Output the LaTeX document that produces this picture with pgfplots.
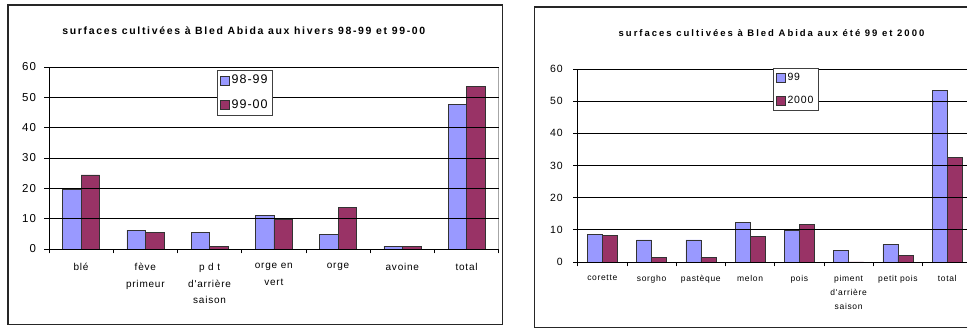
\documentclass[border=0pt]{standalone}
\usepackage{pgfplots}
\pgfplotsset{compat=1.18}
\usepackage{fontspec}
\setmainfont{Liberation Sans}
\newfontfamily\lsA[LetterSpace=8]{Liberation Sans}
\newfontfamily\lsB[LetterSpace=16]{Liberation Sans}
\newfontfamily\lsC[LetterSpace=21]{Liberation Sans}
\definecolor{cA}{HTML}{9999FF}
\definecolor{cB}{HTML}{993366}
\pgfplotsset{
  mybars/.style={
    scale only axis,
    anchor=south west,
    ybar=0pt,
    axis on top,
    ymin=0, ymax=60, ytick={0,10,...,60},
    ymajorgrids,
    major grid style={black, line width=0.5pt},
    axis x line*=bottom, axis y line*=left,
    axis line style={-, black, line width=0.6pt},
    tick align=outside,
    tick style={black, line width=0.6pt},
    major tick length=4.5pt,
    xticklabels={},
    extra x tick style={major tick length=0pt, grid=none},
    /pgf/number format/assume math mode=true,
    xticklabel style={align=center},
    clip=false,
    legend image code/.code={\draw[##1,/tikz/.cd,line width=0.6pt] (0pt,-4.5pt) rectangle (9pt,4.5pt);},
    legend cell align=left,
  }
}
\begin{document}
\begin{tikzpicture}
\begin{axis}[mybars,
  at={(49pt,80pt)}, width=450pt, height=182pt,
  xmin=-0.5, xmax=6.5, bar width=18.5pt,
  xtick={-0.5,0.5,...,6.5},
  extra x ticks={0,...,6},
  extra x tick labels={blé, fève\\primeur, p d t\\d'arrière\\saison, orge en\\vert, orge, avoine, total},
  xticklabel style={font=\lsA\fontsize{10}{16.5}\selectfont, yshift=-11pt},
  yticklabel style={font=\lsA\fontsize{11.5}{12}\selectfont, xshift=-5pt},
  legend style={at={(0.373,0.984)}, anchor=north west, draw=black!75, line width=0.8pt,
    font=\lsA\fontsize{12.5}{13}\selectfont, row sep=10.5pt, inner sep=3pt},
]
\addplot[fill=cA, draw=black!80, line width=0.6pt] coordinates {(0,19.8) (1,6.2) (2,5.3) (3,11.0) (4,4.8) (5,0.9) (6,47.7)};
\addplot[fill=cB, draw=black!80, line width=0.6pt] coordinates {(0,24.4) (1,5.3) (2,0.9) (3,9.6) (4,13.7) (5,0.9) (6,53.7)};
\legend{98-99, 99-00}
\draw[gray!70, line width=0.6pt] (rel axis cs:1,0) -- (rel axis cs:1,1);
\end{axis}

\begin{axis}[mybars,
  at={(578pt,67pt)}, width=390pt, height=193pt,
  xmin=-0.5, xmax=7.41, bar width=15pt,
  xtick={-0.5,0.5,...,6.5},
  extra x ticks={0,...,7},
  extra x tick labels={corette, sorgho, pastèque, melon, pois, piment\\d'arrière\\saison, petit pois, total},
  xticklabel style={font=\lsA\fontsize{8.5}{14}\selectfont, yshift=-10pt},
  yticklabel style={font=\lsA\fontsize{10.5}{12}\selectfont, xshift=-7pt},
  legend style={at={(0.5,1.005)}, anchor=north west, draw=black!75, line width=0.8pt,
    font=\lsA\fontsize{10.5}{11}\selectfont, row sep=10pt, inner sep=3pt},
]
\addplot[fill=cA, draw=black!80, line width=0.6pt] coordinates {(0,8.6) (1,6.8) (2,6.8) (3,12.2) (4,9.8) (5,3.6) (6,5.4) (7,53.4)};
\addplot[fill=cB, draw=black!80, line width=0.6pt] coordinates {(0,8.3) (1,1.45) (2,1.45) (3,8.0) (4,11.7) (5,0) (6,2.0) (7,32.4)};
\legend{99, 2000}
\end{axis}
\begin{scope}[x=1pt,y=1pt]
\draw[line width=1.2pt, black!85] (8,4) rectangle (503,324);
\draw[line width=1.2pt, black!85] (968,1) -- (535,1) -- (535,322) -- (968,322);
\node at (244,298) {\lsB\bfseries\fontsize{10.5}{12}\selectfont surfaces cultivées à Bled Abida aux hivers 98-99 et 99-00};
\node at (772,296) {\lsC\bfseries\fontsize{9.5}{11}\selectfont surfaces cultivées à Bled Abida aux été 99 et 2000};
\path (0,0) rectangle (968,329);
\end{scope}
\end{tikzpicture}
\end{document}
